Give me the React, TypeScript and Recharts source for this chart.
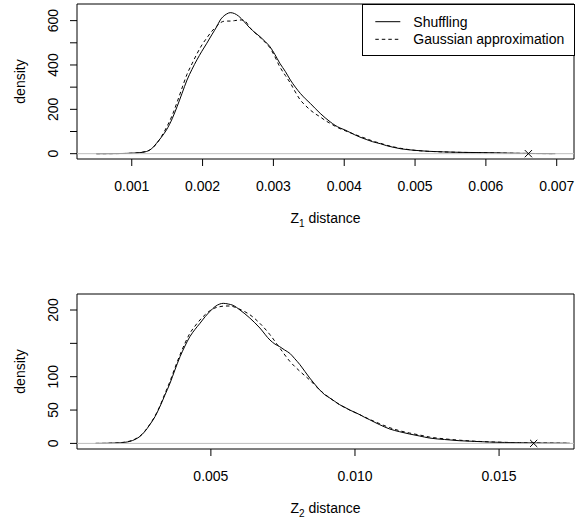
import React from "react";
import {
  ComposedChart,
  Line,
  Scatter,
  XAxis,
  YAxis,
  ReferenceLine,
  ReferenceArea,
  Legend,
} from "recharts";

// ---------- Data: top panel (Z1 distance) ----------
const z1ShuffleX = [
  0.0005, 0.0007, 0.0009, 0.00105, 0.00115, 0.00121, 0.00128, 0.00135, 0.00142, 0.00149,
  0.00157, 0.00164, 0.00171, 0.00178, 0.00185, 0.00192, 0.00199, 0.00206, 0.00213, 0.0022,
  0.00225, 0.00229, 0.00234, 0.00239, 0.00245, 0.00251, 0.00258, 0.00267, 0.00274, 0.00281,
  0.00288, 0.00295, 0.00302, 0.00309, 0.00317, 0.00324, 0.00331, 0.00338, 0.00345, 0.00352,
  0.00359, 0.00366, 0.00373, 0.0038, 0.00387, 0.00394, 0.00401, 0.00408, 0.00415, 0.00422,
  0.00432, 0.0044, 0.00451, 0.0046, 0.00469, 0.0048, 0.0049, 0.005, 0.00517, 0.0054,
  0.00564, 0.0059, 0.0061, 0.0063, 0.0065, 0.0067, 0.00698,
];
const z1ShuffleY = [
  0, 0.3, 1, 3, 6, 10, 22, 47, 75, 107,
  157, 212, 272, 332, 380, 423, 462, 498, 536, 573,
  603, 618, 630, 636, 632, 620, 598, 566, 546, 528,
  507, 483, 448, 408, 370, 332, 300, 272, 248, 227,
  204, 182, 162, 144, 128, 116, 107, 96, 85, 75,
  63, 54, 45, 36, 29, 22, 18, 15, 11, 8,
  6, 5, 4, 2.5, 1.5, 0.8, 0.2,
];
const z1GaussX = [
  0.0005, 0.0008, 0.001, 0.00115, 0.00125, 0.00135, 0.00142, 0.00149, 0.00157, 0.00164,
  0.00171, 0.00178, 0.00185, 0.00192, 0.00199, 0.00206, 0.00213, 0.0022, 0.00225, 0.0023,
  0.00235, 0.0024, 0.00245, 0.0025, 0.00255, 0.0026, 0.00267, 0.00274, 0.00281, 0.00288,
  0.00295, 0.00302, 0.00309, 0.00317, 0.00324, 0.00331, 0.00338, 0.00345, 0.00352, 0.00359,
  0.00366, 0.00373, 0.0038, 0.00387, 0.00394, 0.00401, 0.00408, 0.00415, 0.00422, 0.00432,
  0.0044, 0.00451, 0.0046, 0.00469, 0.0048, 0.0049, 0.005, 0.00517, 0.0054, 0.00564,
  0.0059, 0.0061, 0.0063, 0.0065, 0.0067, 0.00698,
];
const z1GaussY = [
  0, 0.5, 2, 7, 16, 45, 78, 118, 172, 232,
  296, 358, 405, 450, 490, 522, 552, 575, 590, 597,
  598, 598, 600, 602, 603, 598, 568, 545, 525, 503,
  478, 438, 392, 352, 318, 278, 242, 218, 197, 180,
  166, 150, 137, 124, 113, 104, 95, 87, 78, 67,
  57, 47, 38, 31, 24, 19, 15, 11, 8, 6,
  4.5, 3.5, 2.2, 1.3, 0.7, 0.2,
];
const z1Observed = 0.0066;
const z1XDomain = [0.000227, 0.007244];
const z1YDomain = [-24, 675];
const z1XTicks = [0.001, 0.002, 0.003, 0.004, 0.005, 0.006, 0.007];
const z1YTicks = [0, 100, 200, 300, 400, 500, 600];
const z1YLabels = [0, 200, 400, 600];

// ---------- Data: bottom panel (Z2 distance) ----------
const z2ShuffleX = [
  0.001, 0.0013, 0.0017, 0.002, 0.00219, 0.00237, 0.00254, 0.00271, 0.00288, 0.00306,
  0.00323, 0.0034, 0.00358, 0.00375, 0.00393, 0.0041, 0.00427, 0.00445, 0.00462, 0.0048,
  0.00497, 0.00514, 0.00531, 0.00543, 0.0056, 0.00577, 0.00601, 0.00635, 0.0067, 0.00705,
  0.00722, 0.00739, 0.00756, 0.00774, 0.00791, 0.00809, 0.00826, 0.00843, 0.0086, 0.00878,
  0.00895, 0.00913, 0.0093, 0.00947, 0.00965, 0.00982, 0.01, 0.01017, 0.01034, 0.01051,
  0.01069, 0.01086, 0.01121, 0.01155, 0.0119, 0.01225, 0.01259, 0.01311, 0.01363, 0.01415,
  0.01467, 0.01519, 0.01571, 0.0165, 0.01745,
];
const z2ShuffleY = [
  0, 0.1, 0.6, 1.5, 3, 6, 10.5, 18, 28, 40,
  55, 72, 90, 110, 130, 146, 160, 171, 180, 190,
  198, 205, 209, 210, 209, 207, 200, 188, 173, 155,
  149, 145, 140, 135, 127, 118, 108, 98, 89, 80,
  73, 68, 63, 58, 54, 50, 46.5, 43, 39, 35.5,
  31.5, 28, 21.5, 17.5, 14, 11, 8, 5.8, 4, 3,
  2, 1.4, 1, 0.5, 0.2,
];
const z2GaussX = [
  0.001, 0.0013, 0.0017, 0.002, 0.00219, 0.00237, 0.00254, 0.00271, 0.00288, 0.00306,
  0.00323, 0.0034, 0.00358, 0.00375, 0.00393, 0.0041, 0.00427, 0.00445, 0.00462, 0.0048,
  0.00497, 0.00514, 0.00531, 0.0055, 0.00566, 0.00585, 0.00601, 0.00635, 0.0067, 0.00705,
  0.00739, 0.00774, 0.00809, 0.00843, 0.00878, 0.00913, 0.00947, 0.00982, 0.01017, 0.01051,
  0.01086, 0.01121, 0.01155, 0.0119, 0.01225, 0.01259, 0.01311, 0.01363, 0.01415, 0.01467,
  0.01519, 0.01571, 0.0165, 0.01745,
];
const z2GaussY = [
  0, 0.1, 0.7, 1.8, 3.5, 6.5, 11, 18.5, 28.5, 41,
  56, 74, 93, 113, 133, 150, 165, 176, 185, 193,
  199, 203, 205, 206, 206, 204, 201, 193, 180, 163,
  143, 123, 108, 95, 80, 68, 58, 50, 43, 36,
  29.5, 23.5, 19, 15.5, 12.5, 9.5, 6.8, 4.8, 3.3, 2.3,
  1.6, 1.1, 0.6, 0.2,
];
const z2Observed = 0.0162;
const z2XDomain = [0.000354, 0.0176];
const z2YDomain = [-8.4, 224];
const z2XTicks = [0.005, 0.01, 0.015];
const z2YTicks = [0, 50, 100, 150, 200];
const z2YLabels = [0, 50, 100, 200];

const seriesNames = ["Shuffling", "Gaussian approximation"];

const zip = (xs: number[], ys: number[]) => xs.map((x, i) => ({ x, y: ys[i] }));

const FONT = '"Liberation Sans", Arial, Helvetica, sans-serif';
const FS = 14;
const DASH = "3.5 3";

const XMark = (props: any) => {
  const { cx, cy } = props;
  if (cx == null || cy == null) return null;
  const s = 3.6;
  return (
    <g>
      <line x1={cx - s} y1={cy - s} x2={cx + s} y2={cy + s} stroke="#000" strokeWidth={1} />
      <line x1={cx - s} y1={cy + s} x2={cx + s} y2={cy - s} stroke="#000" strokeWidth={1} />
    </g>
  );
};

const makeYTick = (labels: number[]) => (props: any) => {
  const { x, y, payload } = props;
  if (!labels.includes(payload.value)) return <g />;
  const bx = x - 12;
  return (
    <text
      x={bx}
      y={y}
      transform={`rotate(-90 ${bx} ${y})`}
      textAnchor="middle"
      fontFamily={FONT}
      fontSize={FS}
      fill="#000"
    >
      {String(payload.value)}
    </text>
  );
};

const XTick = (props: any) => {
  const { x, y, payload } = props;
  return (
    <text x={x} y={y + 24.5} textAnchor="middle" fontFamily={FONT} fontSize={FS} fill="#000">
      {Number(payload.value).toFixed(3)}
    </text>
  );
};

const makeXLabel = (sub: string) => (props: any) => {
  const vb = props.viewBox || {};
  const cx = (vb.x ?? 77) + (vb.width ?? 497) / 2;
  const top = vb.y ?? 0;
  return (
    <text x={cx} y={top + 63.5} textAnchor="middle" fontFamily={FONT} fontSize={FS} fill="#000">
      <tspan>Z</tspan>
      <tspan fontSize={10} dy={4}>
        {sub}
      </tspan>
      <tspan dy={-4}> distance</tspan>
    </text>
  );
};

const makeYLabel = () => (props: any) => {
  const vb = props.viewBox || {};
  const cy = (vb.y ?? 0) + (vb.height ?? 155) / 2;
  const bx = 25;
  return (
    <text
      x={bx}
      y={cy}
      transform={`rotate(-90 ${bx} ${cy})`}
      textAnchor="middle"
      fontFamily={FONT}
      fontSize={FS}
      fill="#000"
    >
      density
    </text>
  );
};

const LegendBox = (props: any) => {
  const payload = (props.payload || [])
    .filter((p: any) => p.type !== "none" && seriesNames.includes(p.value))
    .slice()
    .sort((a: any, b: any) => seriesNames.indexOf(a.value) - seriesNames.indexOf(b.value));
  return (
    <svg width={213} height={52} style={{ display: "block" }}>
      <rect x={0.5} y={0.5} width={212} height={51} fill="#fff" stroke="#000" strokeWidth={1} />
      {payload.map((p: any, i: number) => {
        const cy = 17.7 + i * 17.6;
        const dash = p.payload && p.payload.strokeDasharray;
        return (
          <g key={i}>
            <line x1={13.3} x2={38.3} y1={cy} y2={cy} stroke="#000" strokeWidth={1} strokeDasharray={dash} />
            <text x={51.3} y={cy + 5} fontFamily={FONT} fontSize={FS} fill="#000">
              {p.value}
            </text>
          </g>
        );
      })}
    </svg>
  );
};

type PanelProps = {
  shuffle: { x: number; y: number }[];
  gauss: { x: number; y: number }[];
  observed: number;
  xDomain: number[];
  yDomain: number[];
  xTicks: number[];
  yTicks: number[];
  yLabels: number[];
  sub: string;
  marginTop: number;
  height: number;
  xAxisHeight: number;
  legend: boolean;
};

const Panel = (p: PanelProps) => (
  <ComposedChart
    width={575}
    height={p.height}
    margin={{ top: p.marginTop, right: 1, bottom: 0, left: 0 }}
  >
    <XAxis
      type="number"
      dataKey="x"
      domain={p.xDomain}
      allowDataOverflow
      ticks={p.xTicks}
      interval={0}
      axisLine={false}
      tickLine={{ stroke: "#000", strokeWidth: 1 }}
      tickSize={7}
      tickMargin={0}
      tick={<XTick />}
      height={p.xAxisHeight}
      label={{ content: makeXLabel(p.sub) }}
    />
    <YAxis
      type="number"
      dataKey="y"
      domain={p.yDomain}
      allowDataOverflow
      ticks={p.yTicks}
      interval={0}
      axisLine={false}
      tickLine={{ stroke: "#000", strokeWidth: 1 }}
      tickSize={7}
      tickMargin={0}
      tick={makeYTick(p.yLabels)}
      width={77}
      label={{ content: makeYLabel() }}
    />
    <Line
      data={p.shuffle}
      dataKey="y"
      name={seriesNames[0]}
      type="monotone"
      stroke="#000"
      strokeWidth={1}
      dot={false}
      activeDot={false}
      isAnimationActive={false}
    />
    <Line
      data={p.gauss}
      dataKey="y"
      name={seriesNames[1]}
      type="monotone"
      stroke="#000"
      strokeWidth={1}
      strokeDasharray={DASH}
      dot={false}
      activeDot={false}
      isAnimationActive={false}
    />
    <ReferenceLine y={0} stroke="#bebebe" strokeWidth={1} />
    <Scatter
      data={[{ x: p.observed, y: 0 }]}
      dataKey="y"
      shape={XMark}
      legendType="none"
      isAnimationActive={false}
    />
    <ReferenceArea
      x1={p.xDomain[0]}
      x2={p.xDomain[1]}
      y1={p.yDomain[0]}
      y2={p.yDomain[1]}
      fill="none"
      fillOpacity={0}
      stroke="#000"
      strokeWidth={1}
      ifOverflow="visible"
    />
    {p.legend && (
      <Legend
        layout="horizontal"
        verticalAlign="middle"
        align="center"
        content={<LegendBox />}
        wrapperStyle={{ position: "absolute", left: 361.5, top: 3.5, width: 213, height: 52 }}
      />
    )}
  </ComposedChart>
);

export default function App() {
  return (
    <div style={{ position: "absolute", left: 0, top: 0, width: 575, height: 520, background: "#fff" }}>
      <div style={{ position: "absolute", left: 0, top: 0 }}>
        <Panel
          shuffle={zip(z1ShuffleX, z1ShuffleY)}
          gauss={zip(z1GaussX, z1GaussY)}
          observed={z1Observed}
          xDomain={z1XDomain}
          yDomain={z1YDomain}
          xTicks={z1XTicks}
          yTicks={z1YTicks}
          yLabels={z1YLabels}
          sub="1"
          marginTop={4}
          height={260}
          xAxisHeight={101}
          legend={true}
        />
      </div>
      <div style={{ position: "absolute", left: 0, top: 260 }}>
        <Panel
          shuffle={zip(z2ShuffleX, z2ShuffleY)}
          gauss={zip(z2GaussX, z2GaussY)}
          observed={z2Observed}
          xDomain={z2XDomain}
          yDomain={z2YDomain}
          xTicks={z2XTicks}
          yTicks={z2YTicks}
          yLabels={z2YLabels}
          sub="2"
          marginTop={34}
          height={260}
          xAxisHeight={71}
          legend={false}
        />
      </div>
    </div>
  );
}
